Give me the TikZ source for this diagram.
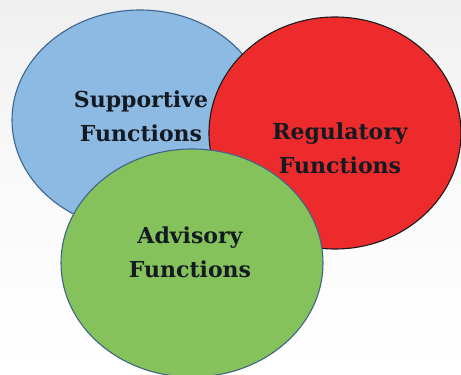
\documentclass[tikz,border=0pt]{standalone}
\usepackage{fontspec}
\setmainfont{DejaVu Serif}
\definecolor{bluefill}{HTML}{8DBAE2}
\definecolor{blueline}{HTML}{3C6590}
\definecolor{redfill}{HTML}{EE2B2C}
\definecolor{redline}{HTML}{1A1A1A}
\definecolor{greenfill}{HTML}{86C25C}
\definecolor{greenline}{HTML}{3F6488}
\definecolor{labeltext}{HTML}{141A22}
\begin{document}
\begin{tikzpicture}[x=1pt,y=-1pt,
  circ/.style={line width=1.1pt},
  lbl/.style={font=\bfseries\fontsize{22}{34}\selectfont, text=labeltext, align=center}]
% page with a faint grey wash at the top
\useasboundingbox (0,0) rectangle (461,375);
\shade[top color=black!6, bottom color=white, middle color=black!2] (0,0) rectangle (461,375);
% the three overlapping areas
\draw[circ, fill=bluefill, draw=blueline] (140,120) ellipse [x radius=128, y radius=110];
\draw[circ, fill=redfill, draw=redline] (335,133) ellipse [x radius=126, y radius=116];
\draw[circ, fill=greenfill, draw=greenline] (192,263) ellipse [x radius=131, y radius=114];
% labels
\node[lbl] (support) at (141,116) {Supportive\\Functions};
\node[lbl] (regul) at (340,148) {Regulatory\\Functions};
\node[lbl] (advis) at (190,252) {Advisory\\Functions};
\end{tikzpicture}
\end{document}
